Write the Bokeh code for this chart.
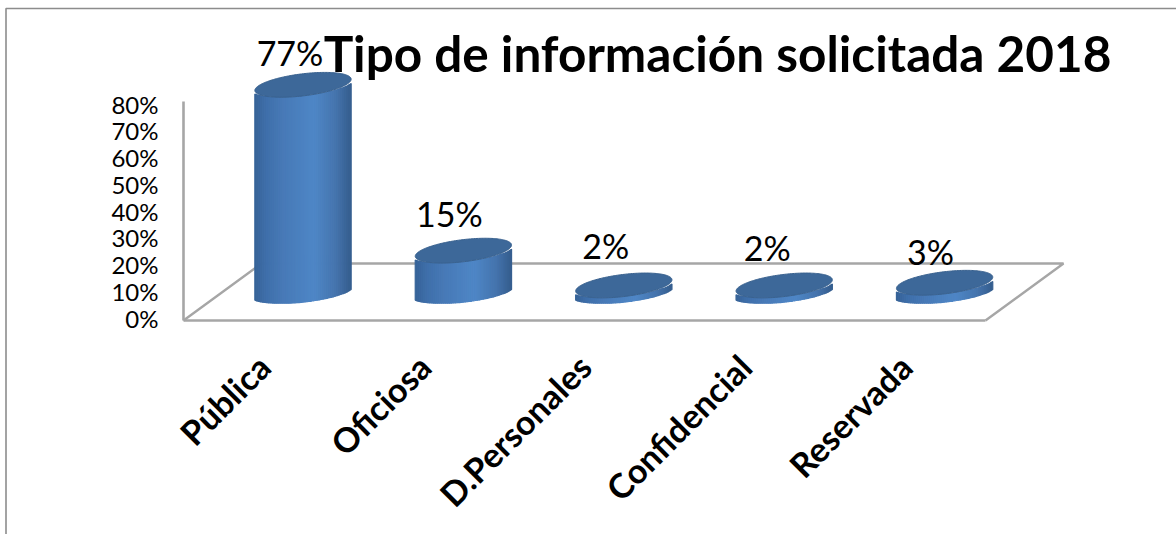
import numpy as np
from math import pi
from bokeh.plotting import figure
from bokeh.models import FixedTicker
from bokeh.core.properties import value
from bokeh.embed import file_html
from bokeh.resources import INLINE

categories = ["Pública", "Oficiosa", "D.Personales", "Confidencial", "Reservada"]
values = [77, 15, 2, 2, 3]
value_labels = ["77%", "15%", "2%", "2%", "3%"]
y_ticks = [0, 10, 20, 30, 40, 50, 60, 70, 80]
title_text = "Tipo de información solicitada 2018"

W, H = 1176, 534
PX_X, PX_Y = 160.4, 2.675     # pixels per category / per percent
X0_PX, Y0_PX = 263.2, 317.5   # pixel of category 0 / of 0%
FONT = "Lato"
GRAY = "#a6a6a6"

p = figure(width=W, height=H, output_backend="svg", toolbar_location=None,
           x_range=(-X0_PX / PX_X, (W - X0_PX) / PX_X),
           y_range=((Y0_PX - H) / PX_Y, Y0_PX / PX_Y),
           min_border=0, outline_line_color=None)
p.styles = {"position": "absolute", "left": "0px", "top": "0px"}
p.grid.visible = False

# Floor depth, expressed in axis units
FLOOR = -2.5 / PX_Y
DEPTH_X, DEPTH_Y = 78 / PX_X, 57 / PX_Y
CYL_X, CYL_Y = 39.3 / PX_X, 27.2 / PX_Y
LEFT, RIGHT = -0.5, 4.5

# Chart frame
def xd(px): return (px - X0_PX) / PX_X
def yd(px): return (Y0_PX - px) / PX_Y
p.line([xd(5.5), xd(5.5), xd(1176)], [yd(534), yd(8), yd(8)],
       line_color="#8c8c8c", line_width=1.6)

# Floor edges behind the cylinders
p.line([LEFT, LEFT + DEPTH_X, RIGHT + DEPTH_X, RIGHT],
       [FLOOR, FLOOR + DEPTH_Y, FLOOR + DEPTH_Y, FLOOR], line_color=GRAY, line_width=2.4)

# Axes
p.xaxis.fixed_location = FLOOR
p.xaxis.bounds = (LEFT, RIGHT)
p.xaxis.ticker = FixedTicker(ticks=list(range(len(categories))))
p.xaxis.major_label_overrides = {i: c for i, c in enumerate(categories)}
p.xaxis.major_label_orientation = pi / 4
p.xaxis.major_label_standoff = 34
p.xaxis.major_label_text_font = FONT
p.xaxis.major_label_text_font_style = "bold"
p.xaxis.major_label_text_font_size = "34px"
p.xaxis.major_label_text_color = "black"
p.yaxis.fixed_location = LEFT
p.yaxis.bounds = (FLOOR, 80.9)
p.yaxis.ticker = FixedTicker(ticks=y_ticks)
p.yaxis.major_label_overrides = {t: f"{t}%" for t in y_ticks}
p.yaxis.major_label_standoff = 19
p.yaxis.major_label_text_font = FONT
p.yaxis.major_label_text_font_size = "24px"
p.yaxis.major_label_text_color = "black"
for ax in (p.xaxis, p.yaxis):
    ax.axis_line_color = GRAY
    ax.axis_line_width = 2.6
    ax.major_tick_line_color = None
    ax.minor_tick_line_color = None

# Cylinders: tilted ellipses and vertical shading strips
A, B, TILT = 48.5, 11.0, np.radians(7)
t = np.linspace(0, 2 * pi, 181)
ex = A * np.cos(t) * np.cos(TILT) - B * np.sin(t) * np.sin(TILT)
ey = A * np.cos(t) * np.sin(TILT) + B * np.sin(t) * np.cos(TILT)
edge = np.sqrt((A * np.cos(TILT)) ** 2 + (B * np.sin(TILT)) ** 2)
grid = np.linspace(-edge, edge, 49)

lower = np.full_like(grid, np.inf)
order = np.argsort(ex)
sx, sy = ex[order], ey[order]
for i, g in enumerate(grid):
    lower[i] = sy[np.abs(sx - g) < 3.5].min()

stops_pos = [0.0, 0.12, 0.3, 0.62, 0.85, 1.0]
stops = np.array([[0x36, 0x62, 0x97], [0x3f, 0x6f, 0xaa], [0x48, 0x7a, 0xb7],
                  [0x4f, 0x87, 0xc7], [0x45, 0x74, 0xad], [0x35, 0x5e, 0x8e]])
n = len(grid) - 1
colors = []
for i in range(n):
    f = (i + 0.5) / n
    c = [int(np.interp(f, stops_pos, stops[:, k])) for k in range(3)]
    colors.append("#%02x%02x%02x" % tuple(c))

for i, v in enumerate(values):
    cx, cy = i + CYL_X, CYL_Y
    xs, ys, cs = [], [], []
    for j in range(n):
        x0, x1 = cx + grid[j] / PX_X, cx + grid[j + 1] / PX_X
        b0, b1 = cy + lower[j] / PX_Y, cy + lower[j + 1] / PX_Y
        xs.append([x0, x1, x1, x0])
        ys.append([b0, b1, b1 + v, b0 + v])
        cs.append(colors[j])
    p.patches(xs, ys, fill_color=cs, line_color=cs, line_width=1.2)
    p.patch(cx + ex / PX_X, cy + v + ey / PX_Y, fill_color="#3d6899",
            line_color="#3a628f", line_width=1)

# Data labels
label_dx = [-13, -14, -18, -17, -14]
label_dy = [24, 29, 32, 30, 23]
for i, v in enumerate(values):
    p.text([i + CYL_X + label_dx[i] / PX_X], [CYL_Y + v + label_dy[i] / PX_Y + 3],
           text=[value_labels[i]], text_font=value(FONT), text_font_size="34px",
           text_align="center", text_baseline="middle", text_color="black")

# Title
p.text([xd(717)], [yd(52)], text=[title_text], text_font=value(FONT),
       text_font_style="bold", text_font_size="49.5px",
       text_align="center", text_baseline="middle", text_color="black")

open("out.html", "w").write(file_html(p, INLINE))
